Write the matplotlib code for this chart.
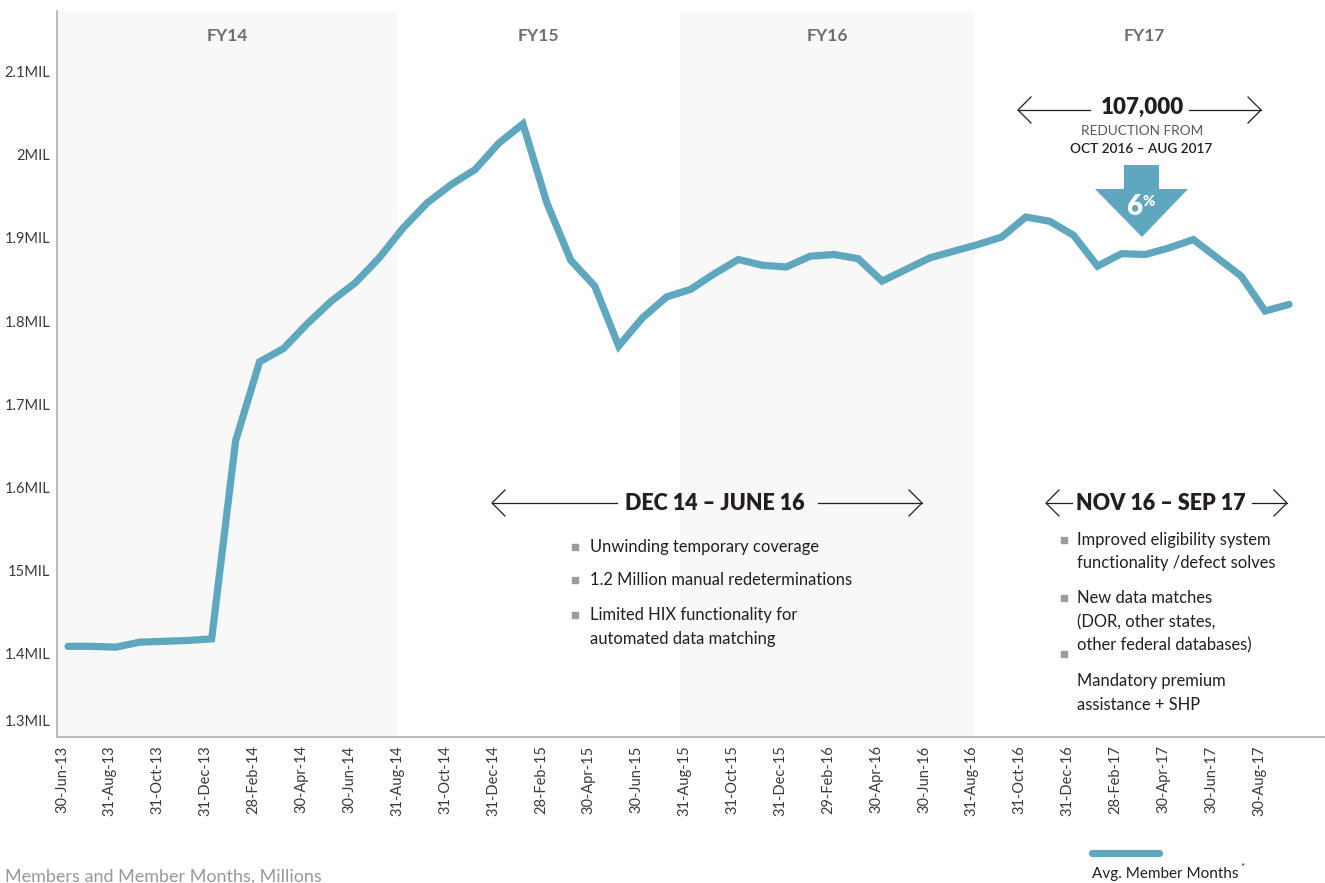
import matplotlib
matplotlib.use("Agg")
import matplotlib.pyplot as plt
from matplotlib.patches import Polygon, Rectangle
import numpy as np

plt.rcParams['font.family'] = ['Lato', 'DejaVu Sans']

# monthly average member months (millions), Jun-2013 .. Oct-2017
members = [1.409, 1.409, 1.408, 1.414, 1.415, 1.416, 1.418, 1.656, 1.751, 1.767,
           1.797, 1.824, 1.846, 1.876, 1.912, 1.942, 1.964, 1.982, 2.014, 2.037,
           1.942, 1.873, 1.842, 1.770, 1.804, 1.829, 1.838, 1.857, 1.874, 1.867,
           1.865, 1.878, 1.880, 1.875, 1.848, 1.862, 1.876, 1.884, 1.892, 1.901,
           1.925, 1.920, 1.903, 1.866, 1.881, 1.880, 1.888, 1.898, 1.876, 1.854,
           1.812, 1.820]

tick_labels = ['30-Jun-13', '31-Aug-13', '31-Oct-13', '31-Dec-13', '28-Feb-14',
               '30-Apr-14', '30-Jun-14', '31-Aug-14', '31-Oct-14', '31-Dec-14',
               '28-Feb-15', '30-Apr-15', '30-Jun-15', '31-Aug-15', '31-Oct-15',
               '31-Dec-15', '29-Feb-16', '30-Apr-16', '30-Jun-16', '31-Aug-16',
               '31-Oct-16', '31-Dec-16', '28-Feb-17', '30-Apr-17', '30-Jun-17',
               '30-Aug-17']

y_ticks = [1.4, 1.5, 1.6, 1.7, 1.8, 1.9, 2.0, 2.1]
y_labels = ['1.4MIL', '15MIL', '1.6MIL', '1.7MIL', '1.8MIL',
            '1.9MIL', '2MIL', '2.1MIL']
y_bottom_label = '1.3MIL'

# fiscal year bands (month index boundaries) and labels
fy_names = ['FY14', 'FY15', 'FY16', 'FY17']
fy_bounds = [(-0.46, 13.75), (13.75, 25.55), (25.55, 37.9), (37.9, 52.0)]
fy_shaded = [True, False, True, False]

LINE = '#5fa7bf'
DARK = '#231f20'
GRAY = '#6d6e71'
W, H = 1325, 883


def fx(px):
    return px / W


def fy(py):
    return 1 - py / H


fig = plt.figure(figsize=(13.25, 8.83), dpi=100)
ax = fig.add_axes([fx(57), fy(737), 1 - fx(57), fy(11) - fy(737)])

x = np.arange(len(members))
ax.set_xlim(-0.46, 52.5)
ax.set_ylim(1.3, 2.1727)

for (a, b), shade, name in zip(fy_bounds, fy_shaded, fy_names):
    if shade:
        ax.axvspan(a, b, color='#f8f8f8', zorder=0, lw=0)
    ax.text((a + b) / 2, 0.965, name, transform=ax.get_xaxis_transform(),
            ha='center', va='center', fontsize=12.5, fontweight='bold', color=GRAY)

ax.plot(x, members, color=LINE, lw=5.2, solid_joinstyle='miter',
        solid_capstyle='round', zorder=3)

ax.set_xticks(np.arange(0, 52, 2) - 0.25)
ax.set_xticklabels(tick_labels, rotation=90, fontsize=10.5, color='#3a3a3a')
ax.set_yticks(y_ticks)
ax.set_yticklabels(y_labels, fontsize=10.5, color='#3a3a3a')
ax.tick_params(length=0, pad=6)
ax.tick_params(axis='y', pad=5)
ax.annotate(y_bottom_label, xy=(0, 1.3), xycoords=('axes fraction', 'data'),
            xytext=(-7, 15), textcoords='offset pixels', ha='right', va='center',
            fontsize=10.5, color='#3a3a3a', annotation_clip=False)

for s in ['top', 'right']:
    ax.spines[s].set_visible(False)
for s in ['left', 'bottom']:
    ax.spines[s].set_color('#b5b5b5')
    ax.spines[s].set_linewidth(1.3)


def span_arrow(x0, x1, y):
    fig.add_artist(plt.Line2D([fx(x0), fx(x1)], [fy(y), fy(y)], color=DARK, lw=0.9))


def chevron(xt, y, direction):
    d = 13 * direction
    fig.add_artist(plt.Line2D([fx(xt - d), fx(xt), fx(xt - d)],
                              [fy(y - 13), fy(y), fy(y + 13)], color=DARK, lw=0.9))


# 107,000 reduction callout
fig.text(fx(1142), fy(107), '107,000', ha='center', va='center', fontsize=16,
         fontweight='heavy', color=DARK)
span_arrow(1018, 1090, 110)
chevron(1018, 110, -1)
span_arrow(1189, 1261, 110)
chevron(1261, 110, 1)
fig.text(fx(1142), fy(131), 'REDUCTION FROM', ha='center', va='center',
         fontsize=9.8, color='#58595b')
fig.text(fx(1141), fy(149), 'OCT 2016 – AUG 2017', ha='center', va='center',
         fontsize=9.8, fontweight='semibold', color=DARK)

arrow_pts = [(1124, 165), (1159, 165), (1159, 189), (1188, 189), (1142, 237),
             (1095, 189), (1124, 189)]
fig.add_artist(Polygon([(fx(a), fy(b)) for a, b in arrow_pts], closed=True,
                       transform=fig.transFigure, facecolor=LINE, edgecolor='none'))
fig.text(fx(1134), fy(207), '6', ha='center', va='center', fontsize=20,
         fontweight='heavy', color='white')
fig.text(fx(1149), fy(202), '%', ha='center', va='center', fontsize=10.5,
         fontweight='heavy', color='white')

# DEC 14 - JUNE 16 callout
fig.text(fx(715), fy(503), 'DEC 14 – JUNE 16', ha='center', va='center',
         fontsize=15.5, fontweight='heavy', color=DARK)
span_arrow(492, 617, 503)
chevron(492, 503, -1)
span_arrow(818, 922, 503)
chevron(922, 503, 1)

left_items = [(547, 'Unwinding temporary coverage', True),
              (580, '1.2 Million manual redeterminations', True),
              (615, 'Limited HIX functionality for', True),
              (639, 'automated data matching', False)]
for yy, txt, bullet in left_items:
    if bullet:
        fig.add_artist(Rectangle((fx(572), fy(yy + 3)), fx(6), 6 / H,
                                 transform=fig.transFigure, color='#9d9d9d'))
    fig.text(fx(590), fy(yy), txt, ha='left', va='center', fontsize=11.9, color=DARK)

# NOV 16 - SEP 17 callout
fig.text(fx(1161), fy(503), 'NOV 16 – SEP 17', ha='center', va='center',
         fontsize=15.5, fontweight='heavy', color=DARK)
span_arrow(1046, 1072, 503)
chevron(1046, 503, -1)
span_arrow(1252, 1287, 503)
chevron(1287, 503, 1)

right_items = [(540, 'Improved eligibility system', True),
               (563, 'functionality /defect solves', False),
               (598, 'New data matches', True),
               (622, '(DOR, other states,', False),
               (645, 'other federal databases)', False),
               (681, 'Mandatory premium', False),
               (705, 'assistance + SHP', False)]
for yy, txt, bullet in right_items:
    if bullet:
        fig.add_artist(Rectangle((fx(1061), fy(yy + 3)), fx(6), 6 / H,
                                 transform=fig.transFigure, color='#9d9d9d'))
    fig.text(fx(1077), fy(yy), txt, ha='left', va='center', fontsize=11.9, color=DARK)
fig.add_artist(Rectangle((fx(1061), fy(657)), fx(6), 6 / H,
                         transform=fig.transFigure, color='#9d9d9d'))

# legend and footnote
fig.add_artist(plt.Line2D([fx(1092), fx(1159)], [fy(853), fy(853)], color=LINE,
                          lw=5.2, solid_capstyle='round'))
leg_txt = fig.text(fx(1092), fy(874), 'Avg. Member Months', ha='left', va='center',
                   fontsize=11, color=DARK)
fig.canvas.draw()
bb = leg_txt.get_window_extent()
fig.text((bb.x1 + 2) / W, fy(868), '*', ha='left', va='center', fontsize=7, color=DARK)
fig.text(fx(5), fy(877), 'Members and Member Months, Millions', ha='left',
         va='center', fontsize=13, color='#999999')

fig.savefig('out.png', dpi=100)
